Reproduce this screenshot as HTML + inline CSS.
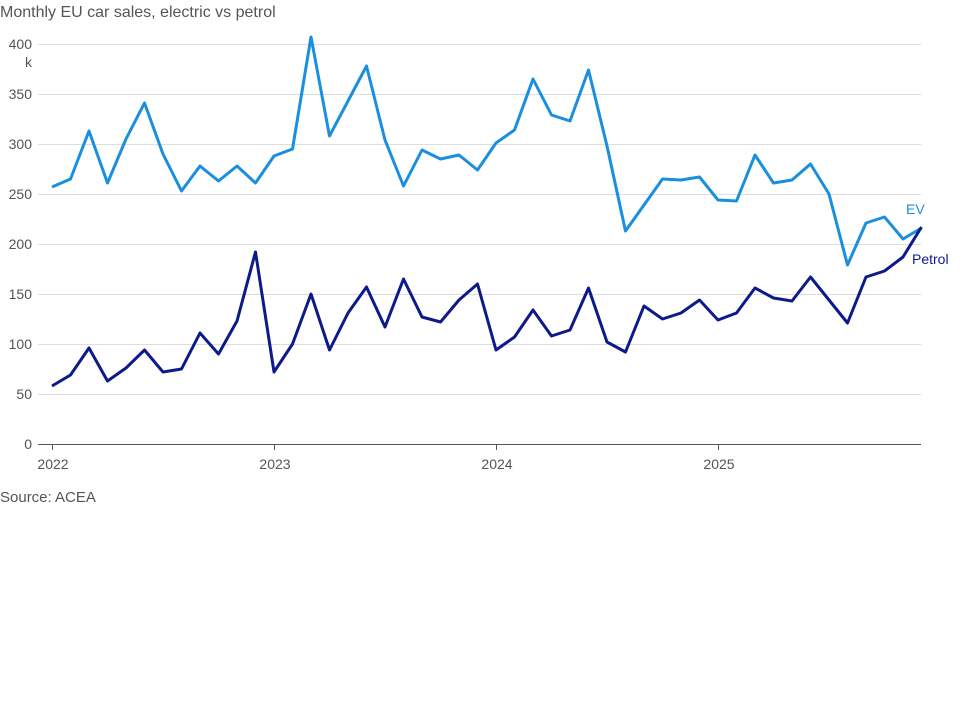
<!DOCTYPE html>
<html><head><meta charset="utf-8"><style>
body{margin:0;background:#fff;width:960px;height:720px;overflow:hidden}
svg text{font-family:"Liberation Sans",sans-serif}
</style></head><body>
<svg width="960" height="720" xmlns="http://www.w3.org/2000/svg">
<text x="0" y="17" font-size="16" fill="#555">Monthly EU car sales, electric vs petrol</text>
<g stroke="#ddd" stroke-width="1">
<line x1="38" x2="921" y1="44.5" y2="44.5"/>
<line x1="38" x2="921" y1="94.5" y2="94.5"/>
<line x1="38" x2="921" y1="144.5" y2="144.5"/>
<line x1="38" x2="921" y1="194.5" y2="194.5"/>
<line x1="38" x2="921" y1="244.5" y2="244.5"/>
<line x1="38" x2="921" y1="294.5" y2="294.5"/>
<line x1="38" x2="921" y1="344.5" y2="344.5"/>
<line x1="38" x2="921" y1="394.5" y2="394.5"/>
</g>
<line x1="38" x2="921" y1="444.5" y2="444.5" stroke="#555" stroke-width="1"/>
<g stroke="#555"><line x1="52.5" x2="52.5" y1="444" y2="450"/><line x1="274.5" x2="274.5" y1="444" y2="450"/><line x1="496.5" x2="496.5" y1="444" y2="450"/><line x1="718.5" x2="718.5" y1="444" y2="450"/></g>
<g font-size="14" fill="#555" text-anchor="end">
<text x="32" y="49">400</text><text x="32" y="67">k</text><text x="32" y="99">350</text><text x="32" y="149">300</text><text x="32" y="199">250</text><text x="32" y="249">200</text><text x="32" y="299">150</text><text x="32" y="349">100</text><text x="32" y="399">50</text><text x="32" y="449">0</text>
</g>
<g font-size="14" fill="#555" text-anchor="middle">
<text x="53" y="469">2022</text><text x="275" y="469">2023</text><text x="497" y="469">2024</text><text x="719" y="469">2025</text>
</g>
<text x="0" y="502" font-size="15" fill="#555">Source: ACEA</text>
<polyline fill="none" stroke="#1a8fe0" stroke-width="3" stroke-linejoin="round" points="52,187 70.5,179 89,131 107.5,183 126,139 144.5,103 163,154 181.5,191 200,166 218.5,181 237,166 255.5,183 274,156 292.5,149 311,37 329.5,136 348,101 366.5,66 385,140 403.5,186 422,150 440.5,159 459,155 477.5,170 496,143 514.5,130 533,79 551.5,115 570,121 588.5,70 607,146 625.5,231 644,205 662.5,179 681,180 699.5,177 718,200 736.5,201 755,155 773.5,183 792,180 810.5,164 829,194 847.5,265 866,223 884.5,217 903,239 921.5,228"/>
<polyline fill="none" stroke="#0d1a8a" stroke-width="3" stroke-linejoin="round" points="52,386 70.5,375 89,348 107.5,381 126,368 144.5,350 163,372 181.5,369 200,333 218.5,354 237,321 255.5,252 274,372 292.5,344 311,294 329.5,350 348,313 366.5,287 385,327 403.5,279 422,317 440.5,322 459,300 477.5,284 496,350 514.5,337 533,310 551.5,336 570,330 588.5,288 607,342 625.5,352 644,306 662.5,319 681,313 699.5,300 718,320 736.5,313 755,288 773.5,298 792,301 810.5,277 829,300 847.5,323 866,277 884.5,271 903,257 921.5,227"/>
<text x="906" y="214" font-size="14" fill="#1a8fe0">EV</text>
<text x="912" y="264" font-size="14" fill="#0d1a8a">Petrol</text>
</svg>
</body></html>
